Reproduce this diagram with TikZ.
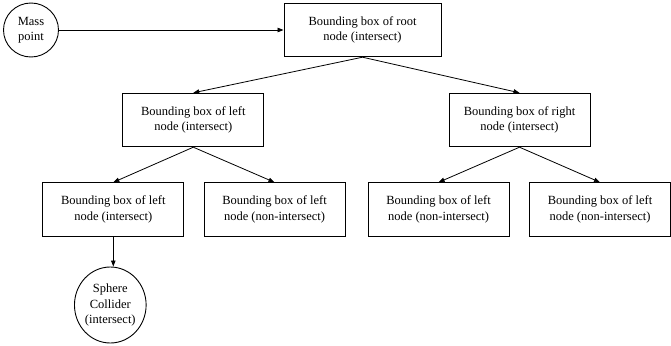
\documentclass[tikz,border=0pt]{standalone}
\usepackage{fontspec}
\setmainfont{Liberation Serif}
\usetikzlibrary{shapes.geometric,arrows.meta}
\begin{document}
\begin{tikzpicture}[x=1pt,y=-1pt,
  txt/.style={font=\fontsize{12.5}{15.5}\selectfont, align=center, inner sep=0pt},
  boxnode/.style={txt, draw, line width=0.9pt, rectangle, minimum width=141pt, minimum height=53.5pt},
  roundnode/.style={txt, draw, line width=0.9pt, ellipse},
  conn/.style={line width=0.8pt, -{Triangle[length=6pt,width=4.5pt]}}]
\useasboundingbox (0,0) rectangle (671,345);
\node[roundnode, minimum width=55pt, minimum height=54pt] (mp) at (31,30) {Mass\\point};
\node[boxnode, minimum width=157pt] (root) at (362.5,30) {Bounding box of root\\node (intersect)};
\node[boxnode] (left) at (193.3,120) {Bounding box of left\\node (intersect)};
\node[boxnode] (right) at (519.5,120) {Bounding box of right\\node (intersect)};
\node[boxnode] (b1) at (113.3,209.5) {Bounding box of left\\node (intersect)};
\node[boxnode] (b2) at (274.5,209.5) {Bounding box of left\\node (non-intersect)};
\node[boxnode] (b3) at (438.6,209.5) {Bounding box of left\\node (non-intersect)};
\node[boxnode] (b4) at (600,209.5) {Bounding box of left\\node (non-intersect)};
\node[roundnode, minimum width=64pt, minimum height=76pt] (sph) at (110.3,305) {Sphere\\Collider\\(intersect)};
\draw[conn] (mp.east) -- (root.west);
\draw[conn] (root.south) -- (left.north);
\draw[conn] (root.south) -- (right.north);
\draw[conn] (left.south) -- (b1.north);
\draw[conn] (left.south) -- (b2.north);
\draw[conn] (right.south) -- (b3.north);
\draw[conn] (right.south) -- (b4.north);
\draw[conn] (b1.south) -- (b1.south |- sph.north);
\end{tikzpicture}
\end{document}
